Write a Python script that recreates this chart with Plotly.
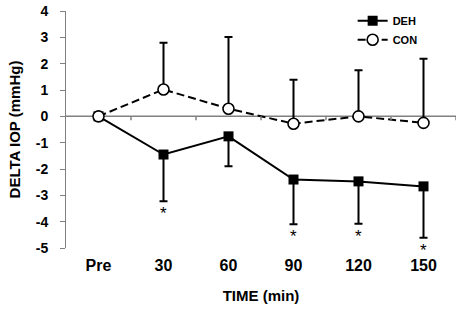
import plotly.graph_objects as go

categories = ["Pre", "30", "60", "90", "120", "150"]
deh_mean = [0.0, -1.45, -0.76, -2.40, -2.47, -2.66]
deh_sd = [0.0, 1.77, 1.14, 1.70, 1.61, 1.95]
con_mean = [0.0, 1.02, 0.29, -0.28, 0.0, -0.25]
con_sd = [0.0, 1.77, 2.72, 1.67, 1.75, 2.44]
deh_sig = [False, True, False, True, True, True]
y_tickvals = [-5, -4, -3, -2, -1, 0, 1, 2, 3, 4]
y_ticktext = ["-5", "-4", "-3", "-2", "-1", "0", "1", "2", "3", "4"]

FONT = "Liberation Sans, Arial, sans-serif"
GRAY = "rgb(128,128,128)"

fig = go.Figure()
fig.add_trace(go.Scatter(
    x=categories, y=deh_mean, name="DEH", mode="lines+markers",
    line=dict(color="black", width=2),
    marker=dict(symbol="square", size=10, color="black"),
    error_y=dict(type="data", symmetric=False, array=[0] * 6, arrayminus=deh_sd,
                 color="black", thickness=2, width=4),
))
fig.add_trace(go.Scatter(
    x=categories, y=con_mean, name="CON", mode="lines+markers",
    line=dict(color="black", width=2, dash="8px,4px"),
    marker=dict(symbol="circle", size=11, color="white", line=dict(color="black", width=1.6)),
    error_y=dict(type="data", symmetric=False, array=con_sd, arrayminus=[0] * 6,
                 color="black", thickness=2, width=4),
))

for i, (m, sd, s) in enumerate(zip(deh_mean, deh_sd, deh_sig)):
    if s:
        fig.add_annotation(x=i, y=m - sd, text="*", showarrow=False, yanchor="top",
                           yshift=-1, font=dict(family=FONT, size=17, color="black"))

# horizontal axis line at zero, behind the data
fig.add_shape(type="line", xref="paper", yref="y", x0=0, x1=1, y0=0, y1=0,
              line=dict(color=GRAY, width=1.5), layer="between")
# category-boundary tick marks hanging below the zero line
for i in range(len(categories)):
    fig.add_shape(type="line", xref="x", yref="y", x0=i + 0.5, x1=i + 0.5,
                  ysizemode="pixel", yanchor=0, y0=0, y1=-4,
                  line=dict(color=GRAY, width=1.5), layer="above")

fig.update_layout(
    width=459, height=311,
    margin=dict(l=66, r=3, t=11, b=63),
    paper_bgcolor="white", plot_bgcolor="white",
    showlegend=True,
    legend=dict(x=0.735, y=1.02, xanchor="left", yanchor="top",
                font=dict(family=FONT, size=11, color="black", weight="bold"),
                bgcolor="rgba(0,0,0,0)", tracegroupgap=0, itemwidth=30),
    xaxis=dict(type="category", categoryorder="array", categoryarray=categories,
               range=[-0.5, 5.5], showline=False, showgrid=False, zeroline=False,
               automargin=False,
               ticks="outside", ticklen=3, tickcolor="rgba(0,0,0,0)",
               tickfont=dict(family=FONT, size=16, color="black", weight="bold"),
               title=dict(text="TIME (min)", standoff=17,
                          font=dict(family=FONT, size=15, color="black", weight="bold"))),
    yaxis=dict(range=[-5, 4], showline=True, linecolor=GRAY, linewidth=1,
               showgrid=False, zeroline=True, zerolinecolor=GRAY, zerolinewidth=1,
               automargin=False,
               tickvals=y_tickvals, ticktext=y_ticktext,
               ticks="outside", ticklen=5, tickcolor=GRAY, ticklabelstandoff=9,
               tickfont=dict(family=FONT, size=14, color="black", weight="bold"),
               title=dict(text="DELTA IOP (mmHg)", standoff=11,
                          font=dict(family=FONT, size=15, color="black", weight="bold"))),
)

fig.write_html("out.html", config={"displayModeBar": False},
               post_script="document.body.style.margin='0';")
